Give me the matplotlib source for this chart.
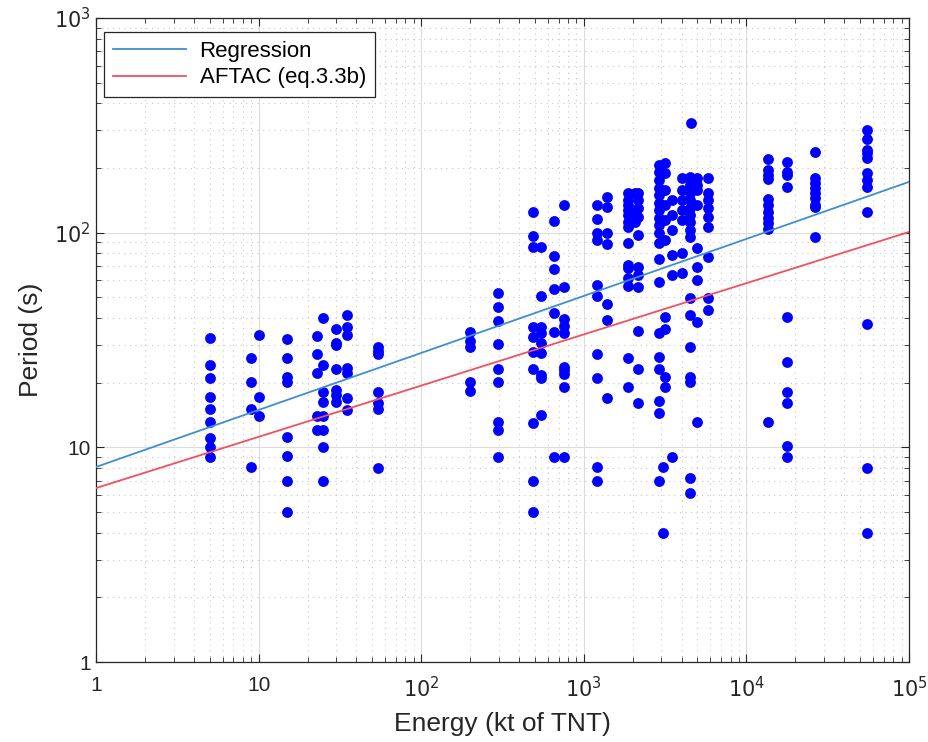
import numpy as np
import matplotlib
matplotlib.use("Agg")
import matplotlib.pyplot as plt
from matplotlib.ticker import LogLocator, NullFormatter

plt.rcParams['font.family'] = ['Liberation Sans', 'DejaVu Sans']

# ---- data: (energy column, periods in that column) ----
col_energy = [5.0, 9.0, 10.0, 15.0, 22.9, 24.9, 29.9, 35.0, 54.2,
              200, 297, 487, 545, 656, 755,
              1206, 1389, 1871, 2065, 2155, 2900, 3070, 3157, 3487,
              4016, 4500, 4560, 4970, 5800,
              13580, 17800, 26400, 55200]
col_periods = [
    [32.3, 24.2, 21.0, 17.2, 15.1, 13.1, 11.0, 10.0, 9.0],
    [26.1, 20.1, 15.1, 8.1],
    [33.3, 17.2, 14.0],
    [31.9, 26.1, 21.2, 20.1, 11.2, 9.1, 7.0, 5.0],
    [33.0, 27.2, 22.2, 14.0, 12.0],
    [40.0, 24.2, 18.1, 16.3, 14.0, 12.0, 10.0, 7.0],
    [35.6, 30.6, 30.0, 23.2, 18.5, 17.5, 16.3],
    [41.3, 36.3, 33.3, 23.4, 22.2, 17.0, 14.9],
    [29.3, 28.1, 27.2, 18.1, 16.1, 15.1, 8.0],
    [34.4, 31.3, 29.3, 20.1, 18.3],
    [52.3, 45.0, 38.7, 30.3, 23.2, 20.1, 13.1, 12.0, 9.0],
    [125, 96.4, 85.7, 36.3, 32.6, 27.8, 23.2, 13.0, 7.0, 5.0],
    [85.7, 50.7, 36.3, 34.1, 30.6, 27.5, 21.7, 21.0, 14.1],
    [113, 77.8, 67.7, 54.6, 42.2, 34.4, 9.0],
    [134.5, 55.8, 39.6, 36.7, 34.1, 23.7, 22.9, 21.9, 19.1, 9.0],
    [134.5, 116, 99.5, 92.4, 57.0, 50.7, 27.2, 21.0, 8.1, 7.0],
    [146.5, 131.6, 99.5, 88.5, 46.5, 39.2, 17.0],
    [153, 142, 135, 127, 121, 112, 106, 89.4, 70.6, 68.4, 61.5, 56.4, 26.1, 19.1],
    [153, 125, 112],
    [153, 142, 130, 118, 97.5, 69.2, 63.4, 55.8, 34.8, 23.2, 16.1],
    [207, 192, 176, 161, 150, 137, 127, 117, 108, 99.5, 89.4, 75.4, 58.9,
     34.1, 26.3, 23.2, 16.4, 14.5, 7.0],
    [8.1, 4.0],
    [211, 190, 158, 135, 115, 92.4, 40.4, 35.6, 21.2, 19.1],
    [142, 121, 103, 78.7, 63.4, 9.0],
    [180, 158, 142, 127, 115, 80.3, 64.9],
    [182, 167, 153, 142, 130, 121, 112, 103, 95.4, 49.6, 41.3, 29.3, 21.2,
     20.1, 7.2, 6.1],
    [324],
    [180, 167, 158, 135, 84.7, 69.2, 60.1, 38.4, 13.1],
    [180, 153, 142, 130, 118, 106, 77.1, 49.6, 43.6],
    [220, 196, 185, 178, 143.5, 134.5, 125, 117, 111, 104, 13.1],
    [213, 192, 185, 163, 40.4, 25.0, 18.1, 16.1, 10.1, 9.0],
    [237, 180, 170, 161, 153, 145, 134.5, 131.6, 95.4],
    [300, 273, 243, 235, 223, 190, 176, 163, 125, 37.5, 8.0, 4.0],
]

# fitted lines: period = a * energy^b
reg_a, reg_b = 8.1, 0.2656
aftac_a, aftac_b = 6.46, 0.2386

x_ticks = [1, 10, 1e2, 1e3, 1e4, 1e5]
x_ticklabels = ['1', '10', '$10^2$', '$10^3$', '$10^4$', '$10^5$']
y_ticks = [1, 10, 1e2, 1e3]
y_ticklabels = ['1', '10', '$10^2$', '$10^3$']

energy = np.concatenate([[e] * len(p) for e, p in zip(col_energy, col_periods)])
period = np.concatenate([np.array(p, dtype=float) for p in col_periods])

fig = plt.figure(figsize=(9.29, 7.42), dpi=100)
ax = fig.add_axes([96 / 929, 1 - 662 / 742, (909 - 96) / 929, (662 - 18) / 742])

ax.set_xscale('log')
ax.set_yscale('log')
ax.set_xlim(1, 1e5)
ax.set_ylim(1, 1e3)

ax.plot(energy, period, 'o', color='#0000ff', markersize=7.8, markeredgewidth=0,
        zorder=3)

e_line = np.logspace(0, 5, 200)
ax.plot(e_line, reg_a * e_line ** reg_b, color='#3d8fd1', lw=1.3,
        label='Regression', zorder=4)
ax.plot(e_line, aftac_a * e_line ** aftac_b, color='#f2505e', lw=1.3,
        label='AFTAC (eq.3.3b)', zorder=4)

ax.set_xticks(x_ticks)
ax.set_xticklabels(x_ticklabels)
ax.set_yticks(y_ticks)
ax.set_yticklabels(y_ticklabels)
ax.xaxis.set_minor_locator(LogLocator(base=10, subs=np.arange(2, 10), numticks=20))
ax.yaxis.set_minor_locator(LogLocator(base=10, subs=np.arange(2, 10), numticks=20))
ax.xaxis.set_minor_formatter(NullFormatter())
ax.yaxis.set_minor_formatter(NullFormatter())

ax.tick_params(which='both', direction='in', top=True, right=True,
               colors='#262626', labelsize=15)
ax.tick_params(which='major', length=6, width=0.8)
ax.tick_params(which='minor', length=3.5, width=0.6)
ax.tick_params(axis='x', pad=10)

ax.grid(True, which='major', color='#dcdcdc', lw=0.8, ls='-')
ax.grid(True, which='minor', color='#c8c8c8', lw=0.8, ls=(0, (1, 4)))
ax.set_axisbelow(True)
for s in ax.spines.values():
    s.set_color('#262626')
    s.set_linewidth(0.9)

ax.set_xlabel('Energy (kt of TNT)', fontsize=19, color='#262626', labelpad=8)
ax.set_ylabel('Period (s)', fontsize=19, color='#262626', labelpad=8)

leg = ax.legend(loc='upper left', fontsize=16, frameon=True, fancybox=False,
                bbox_to_anchor=(8 / 813, 1 - 14 / 644), borderaxespad=0,
                handlelength=3.3, handletextpad=0.6,
                borderpad=0.4, labelspacing=0.25)
leg.get_frame().set_edgecolor('#262626')
leg.get_frame().set_linewidth(0.9)
leg.get_frame().set_alpha(1)

fig.savefig('out.png', dpi=100)
